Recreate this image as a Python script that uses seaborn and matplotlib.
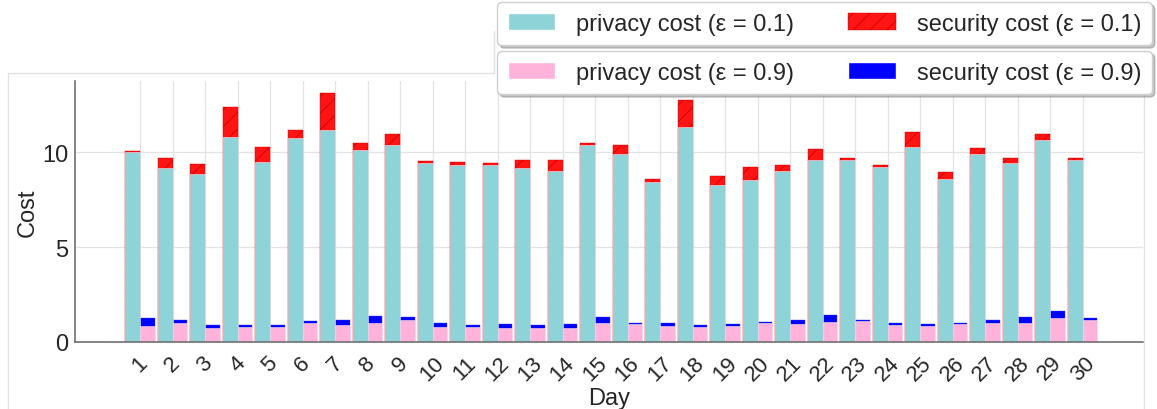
"""
Daily privacy and security cost for two privacy budgets (eps = 0.1 and eps = 0.9).

Stacked bars per day: privacy cost at the bottom, security cost on top.
"""

## Import packages
import numpy as np
import pandas as pd
import matplotlib
matplotlib.use('Agg')
import matplotlib.pyplot as plt
from matplotlib.patches import Patch
from matplotlib.lines import Line2D
import seaborn as sns


## Data
days = list(range(1, 31))

privacy_01 = [10.02, 9.14, 8.84, 10.81, 9.49, 10.72, 11.16, 10.11, 10.40, 9.41,
              9.30, 9.30, 9.14, 8.98, 10.35, 9.90, 8.42, 11.30, 8.25, 8.53,
              8.98, 9.58, 9.56, 9.21, 10.27, 8.60, 9.90, 9.44, 10.62, 9.58]
security_01 = [0.06, 0.56, 0.51, 1.56, 0.76, 0.44, 1.93, 0.35, 0.57, 0.10,
               0.19, 0.14, 0.42, 0.62, 0.11, 0.49, 0.18, 1.44, 0.49, 0.70,
               0.35, 0.56, 0.14, 0.12, 0.78, 0.33, 0.33, 0.26, 0.35, 0.12]
privacy_09 = [0.84, 0.98, 0.76, 0.81, 0.81, 0.98, 0.88, 1.02, 1.14, 0.81,
              0.81, 0.76, 0.76, 0.76, 0.98, 0.93, 0.84, 0.81, 0.84, 0.98,
              0.93, 1.07, 1.11, 0.90, 0.83, 0.93, 0.98, 1.02, 1.28, 1.14]
security_09 = [0.41, 0.16, 0.12, 0.09, 0.09, 0.11, 0.26, 0.37, 0.16, 0.17,
               0.07, 0.17, 0.12, 0.21, 0.35, 0.09, 0.14, 0.07, 0.09, 0.09,
               0.21, 0.35, 0.05, 0.08, 0.10, 0.09, 0.16, 0.31, 0.35, 0.14]

eps_levels = ['0.1', '0.9']

# Long-form tables for seaborn
df_priv = pd.DataFrame({'Day': days * 2,
                        'eps': [eps_levels[0]] * 30 + [eps_levels[1]] * 30,
                        'cost': privacy_01 + privacy_09})
df_total = pd.DataFrame({'Day': days * 2,
                         'eps': [eps_levels[0]] * 30 + [eps_levels[1]] * 30,
                         'cost': list(np.add(privacy_01, security_01)) +
                                 list(np.add(privacy_09, security_09))})


## Colours and fonts
teal = '#8ed3d8'
pink = '#ffb3da'
red = '#ff1414'
blue = '#0000ff'
hatch_red = '#c80000'

sns.set_theme(style='whitegrid')
plt.rcParams['font.family'] = ['Liberation Sans', 'DejaVu Sans']
plt.rcParams['hatch.linewidth'] = 0.6


## Create figure
fig = plt.figure(figsize=(11.57, 4.10), dpi=100)
ax = fig.add_axes([75 / 1157, 67 / 410, 1068 / 1157, 261 / 410])

# Totals first (security colour), privacy drawn over the lower part
sns.barplot(ax=ax, data=df_total, x='Day', y='cost', hue='eps', hue_order=eps_levels,
            palette={'0.1': red, '0.9': blue}, width=0.9, gap=0, saturation=1,
            errorbar=None, legend=False, linewidth=0.3, edgecolor='#4040ff')

for bar in ax.patches:
    if np.allclose(bar.get_facecolor()[:3], matplotlib.colors.to_rgb(red)):
        bar.set_hatch('//')
        bar.set_edgecolor(hatch_red)
        bar.set_linewidth(0.3)

sns.barplot(ax=ax, data=df_priv, x='Day', y='cost', hue='eps', hue_order=eps_levels,
            palette={'0.1': teal, '0.9': pink}, width=0.9, gap=0, saturation=1,
            errorbar=None, legend=False, linewidth=0.4, edgecolor='#fbe6f0')

# Axes limits and labels
ax.set_xlim(-2, 30.86)
ax.set_ylim(0, 13.745)
ax.set_yticks([0, 5, 10])
ax.set_xlabel('Day', fontsize=17, labelpad=2)
ax.set_ylabel('Cost', fontsize=17, labelpad=2)
ax.tick_params(axis='y', labelsize=17, length=0, pad=5)
ax.tick_params(axis='x', labelsize=16, rotation=45, length=0, pad=7)

# Grid and spines
ax.grid(True, color='#e3e3e3', linewidth=0.9)
ax.set_axisbelow(True)
for side in ['top', 'right']:
    ax.spines[side].set_visible(False)
for side in ['left', 'bottom']:
    ax.spines[side].set_color('#707070')
    ax.spines[side].set_linewidth(1.2)


## Legends (two separate boxes, top right)
handles_01 = [Patch(facecolor=teal, edgecolor='white', label='privacy cost (ε = 0.1)'),
              Patch(facecolor=red, edgecolor=hatch_red, hatch='//', linewidth=0.3,
                    label='security cost (ε = 0.1)')]
handles_09 = [Patch(facecolor=pink, edgecolor='white', label='privacy cost (ε = 0.9)'),
              Patch(facecolor=blue, edgecolor='white', label='security cost (ε = 0.9)')]

legend_style = dict(loc='upper right', ncol=2, fontsize=17, frameon=True, fancybox=True,
                    shadow={'color': '0.55', 'alpha': 0.5}, borderaxespad=0,
                    handletextpad=0.9, columnspacing=2.3, borderpad=0.45,
                    edgecolor='#cfcfcf', framealpha=1, bbox_transform=fig.transFigure)
leg1 = fig.legend(handles=handles_01, bbox_to_anchor=(1152 / 1157, 1 - 3 / 410), **legend_style)
leg2 = fig.legend(handles=handles_09, bbox_to_anchor=(1152 / 1157, 1 - 52 / 410), **legend_style)

# Light frame around the plot area
W, H = 1157, 410
frame_x = [8, 8, 494, 494]
frame_y = [410, 74, 74, 32]
fig.add_artist(Line2D([x / W for x in frame_x], [1 - y / H for y in frame_y],
                      transform=fig.transFigure, color='#e2e2e2', linewidth=1, zorder=1))
fig.add_artist(Line2D([1144 / W, 1144 / W], [1 - 74 / H, 0],
                      transform=fig.transFigure, color='#e2e2e2', linewidth=1, zorder=1))


# Save figure
plt.savefig('out.png', dpi=100)
